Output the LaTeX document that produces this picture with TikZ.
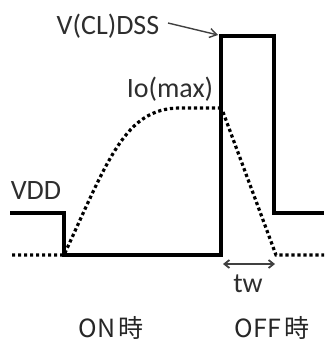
\documentclass[tikz,border=0pt]{standalone}
\usepackage{fontspec}
\setmainfont{Carlito}
\newfontfamily\cjk{Noto Sans CJK JP}
\usetikzlibrary{arrows.meta}
\begin{document}
\begin{tikzpicture}[x=1pt,y=-1pt,
  wave/.style={line width=3.2pt},
  dots/.style={line width=3.2pt,dash pattern=on 3.2pt off 2.8pt},
  lbl/.style={inner sep=0pt,text=black!82,font=\fontsize{28}{30}\selectfont},
  bot/.style={inner sep=0pt,text=black!85,font=\cjk\fontsize{25}{27}\selectfont},
  arr/.style={line width=1.4pt,draw=black!75,-{Straight Barb[length=7pt,width=9pt]}},
  dbl/.style={line width=1.8pt,draw=black!75,{Straight Barb[length=5pt,width=8pt]}-{Straight Barb[length=5pt,width=8pt]}}]
\useasboundingbox (0,0) rectangle (324,340);
% coordinates
\coordinate (s0) at (10,213);
\coordinate (s1) at (64,213);
\coordinate (s2) at (64,255);
\coordinate (s3) at (221,255);
\coordinate (s4) at (221,36);
\coordinate (s5) at (274,36);
\coordinate (s6) at (274,213);
\coordinate (s7) at (324,213);
% dotted current
\draw[dots] (12,255) -- (64,255) .. controls (108,160) and (125,108) .. (180,108) -- (220,108);
\draw[dots] (223,112) -- (276,255) -- (324,255);
% solid voltage
\draw[wave] (s0) -- (s1) -- (s2) -- (s3) -- (s4) -- (s5) -- (s6) -- (s7);
% labels
\node[lbl] (vdd) at (36,191) {VDD};
\node[lbl] (vcl) at (108,26) {V(CL)DSS};
\node[lbl] (io) at (170,89) {Io(max)};
\coordinate (tip) at (218,35);
\coordinate (vs) at (168,23);
\draw[arr] (vs) -- (tip);
\coordinate (t1) at (223,264);
\coordinate (t2) at (275,264);
\draw[dbl] (t1) -- (t2);
\node[lbl] (tw) at (248,284) {tw};
\node[bot] (on) at (111,328) {ON\hspace{3pt}時};
\node[bot] (off) at (272,328) {OFF\hspace{3pt}時};
\end{tikzpicture}
\end{document}
